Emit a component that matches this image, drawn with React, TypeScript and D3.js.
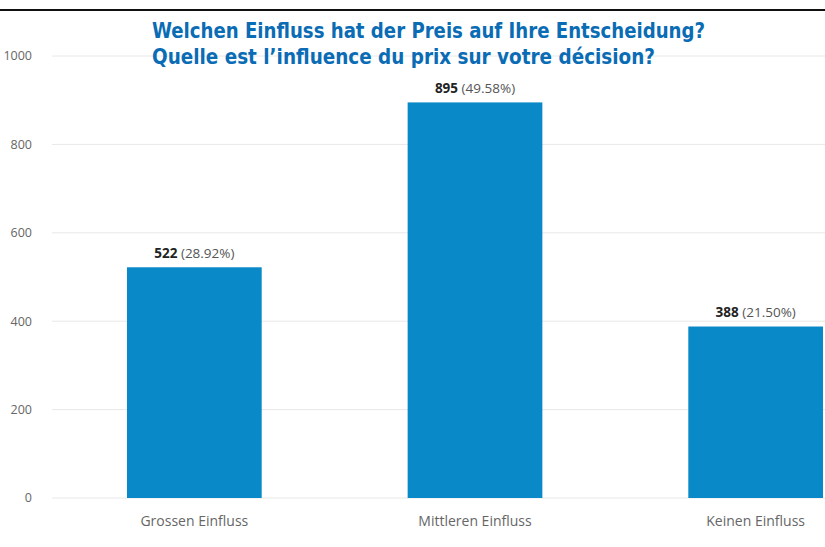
import React from "react";
import * as d3 from "d3";

const categories = ["Grossen Einfluss", "Mittleren Einfluss", "Keinen Einfluss"];
const counts = [522, 895, 388];
const percents = ["28.92%", "49.58%", "21.50%"];
const yTicks = [0, 200, 400, 600, 800, 1000];
const titleLines = [
  "Welchen Einfluss hat der Preis auf Ihre Entscheidung?",
  "Quelle est l\u2019influence du prix sur votre décision?",
];

const W = 825;
const H = 547;

export default function App() {
  const x = d3
    .scaleBand<string>()
    .domain(categories)
    .range([54, 896])
    .paddingInner(0.52)
    .paddingOuter(0.26);
  const y = d3.scaleLinear().domain([0, 1000]).range([498, 56]);
  const font = "'Open Sans', 'Noto Sans', sans-serif";

  return (
    <svg
      width={W}
      height={H}
      style={{ position: "absolute", left: 0, top: 0, background: "#fff" }}
    >
      <rect x={0} y={0} width={W} height={H} fill="#fff" />
      <line x1={0} x2={W} y1={10} y2={10} stroke="#111" strokeWidth={2} />
      {yTicks.map((t) => (
        <g key={t}>
          <line x1={52} x2={W} y1={y(t)} y2={y(t)} stroke="#e8e8e8" strokeWidth={1} />
          <text
            x={32}
            y={y(t)}
            dy="0.35em"
            textAnchor="end"
            fontFamily={font}
            fontSize={12.5}
            fill="#666"
          >
            {t}
          </text>
        </g>
      ))}
      {categories.map((c, i) => {
        const bx = x(c)!;
        const cx = bx + x.bandwidth() / 2;
        return (
          <g key={c}>
            <rect
              x={bx}
              y={y(counts[i])}
              width={x.bandwidth()}
              height={y(0) - y(counts[i])}
              fill="#0a89c8"
            />
            <text
              x={cx}
              y={y(counts[i]) - 9.5}
              textAnchor="middle"
              fontFamily={font}
              fontSize={13.5}
              fill="#555"
            >
              <tspan fontWeight="bold" fill="#222">{counts[i]}</tspan>
              <tspan> ({percents[i]})</tspan>
            </text>
            <text
              x={cx}
              y={525.5}
              textAnchor="middle"
              fontFamily={font}
              fontSize={14}
              fill="#666"
            >
              {c}
            </text>
          </g>
        );
      })}
      {titleLines.map((l, i) => (
        <text
          key={i}
          x={152}
          y={37.5 + i * 26}
          fontFamily="'Liberation Sans Narrow', 'DejaVu Sans Condensed', 'Roboto', sans-serif"
          fontWeight="bold"
          fontSize={21}
          fill="#0a6cb4"
          textLength={i === 0 ? 553 : 503}
          lengthAdjust="spacingAndGlyphs"
        >
          {l}
        </text>
      ))}
    </svg>
  );
}
